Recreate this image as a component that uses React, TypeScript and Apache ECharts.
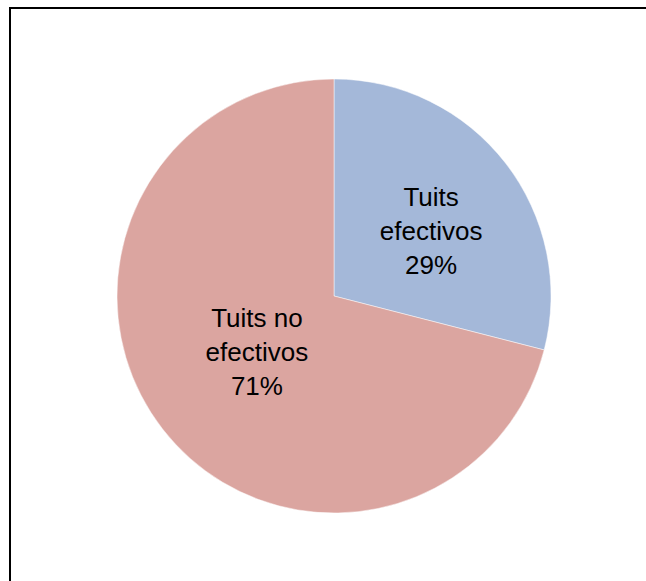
import React, { useEffect, useRef } from "react";
import * as echarts from "echarts";

const categories = ["Tuits efectivos", "Tuits no efectivos"];
const labelNames = ["Tuits\nefectivos", "Tuits no\nefectivos"];
const values = [29, 71];
const colors = ["#A4B8D9", "#DBA5A0"];
const labelOffsets = [
  [9, 3],
  [11, -12],
];

export default function App() {
  const ref = useRef<HTMLDivElement>(null);
  useEffect(() => {
    if (!ref.current) return;
    const chart = echarts.init(ref.current, undefined, { renderer: "svg" });
    chart.setOption({
      animation: false,
      backgroundColor: "transparent",
      series: [
        {
          type: "pie",
          center: [334, 296],
          radius: 217,
          startAngle: 90,
          clockwise: true,
          avoidLabelOverlap: false,
          data: categories.map((c, i) => ({
            name: c,
            value: values[i],
            itemStyle: { color: colors[i] },
          })),
          itemStyle: { borderColor: "rgba(255,255,255,0.6)", borderWidth: 0.8 },
          label: {
            show: true,
            position: "inner",
            formatter: (p: any) => labelNames[p.dataIndex] + "\n" + p.value + "%",
            fontFamily: "Liberation Sans, Arial, sans-serif",
            fontSize: 26,
            lineHeight: 34,
            color: "#000",
            align: "center",
          },
          labelLine: { show: false },
          labelLayout: (p: any) => ({
            dx: labelOffsets[p.dataIndex][0],
            dy: labelOffsets[p.dataIndex][1],
          }),
          emphasis: { disabled: true },
        },
      ],
    });
    return () => chart.dispose();
  }, []);
  return (
    <div style={{ position: "absolute", left: 0, top: 0, width: 646, height: 581, overflow: "hidden" }}>
      <div
        style={{
          position: "absolute",
          left: 9,
          top: 7,
          width: 700,
          height: 700,
          borderTop: "2px solid #000",
          borderLeft: "2px solid #000",
          boxSizing: "border-box",
        }}
      />
      <div ref={ref} style={{ position: "absolute", left: 0, top: 0, width: 646, height: 581 }} />
    </div>
  );
}
